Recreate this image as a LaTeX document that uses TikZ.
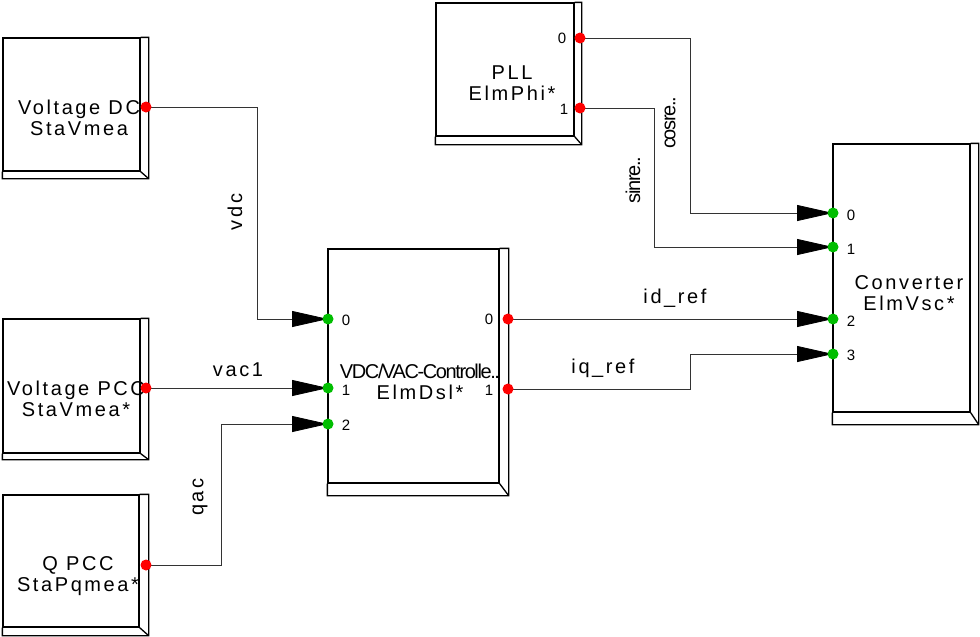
\documentclass[tikz,border=0pt]{standalone}
\usepackage{fontspec}
\setmainfont{Liberation Sans}[LetterSpace=13]
\newfontfamily\tightfont{Liberation Sans}[LetterSpace=-7]
\usetikzlibrary{arrows.meta,calc,backgrounds}
\definecolor{portred}{RGB}{255,0,0}
\definecolor{portgreen}{RGB}{0,190,0}
\tikzset{
  box/.style={draw=black, line width=1.3pt, inner sep=0pt},
  wire/.style={draw=black!80, line width=0.8pt},
  sig/.style={wire, -{Triangle[length=36pt,width=16pt,color=black,fill=black]}},
  outport/.style={circle, fill=portred, inner sep=0pt, minimum size=11pt},
  inport/.style={circle, fill=portgreen, inner sep=0pt, minimum size=11pt},
  txt/.style={align=center, inner sep=0pt, font=\fontsize{20}{21}\selectfont},
  num/.style={inner sep=0pt, font=\fontsize{15}{15}\selectfont}
}
\begin{document}
\begin{tikzpicture}[x=1pt,y=-1pt]
\useasboundingbox (0,0) rectangle (980,637);
\node[box, minimum width=137, minimum height=133] (vdcm) at (71.5,104.5) {};
\node[box, minimum width=137, minimum height=134] (vpcc) at (71.5,386) {};
\node[box, minimum width=136, minimum height=132] (qpcc) at (71,561) {};
\node[box, minimum width=138, minimum height=133] (pll) at (505,69.5) {};
\node[box, minimum width=171, minimum height=234] (ctrl) at (413.5,366) {};
\node[box, minimum width=137, minimum height=268] (conv) at (901.5,278) {};
\foreach \b/\r/\d in {vdcm/8/7, vpcc/8/6, qpcc/9/8, pll/7/8, ctrl/9/12, conv/8/12}
  \draw[box] (\b.north east) -- ++(\r,0) |- ($(\b.south west)+(0,\d)$) -- (\b.south west)
    (\b.south east) -- ++(\r,\d);

\node[txt] (vdcmtxt) at (79,118) {Voltage DC\\StaVmea};
\node[txt] (vpcctxt) at (76,399) {Voltage PCC\\StaVmea*};
\node[txt] (qpcctxt) at (78,576) {Q PCC\\StaPqmea*};
\node[txt] (plltxt) at (512,83) {PLL\\ElmPhi*};
\node[txt] (ctrltxt) at (420,382) {{\tightfont VDC/VAC-Controlle..}\\ElmDsl*};
\node[txt] (convtxt) at (909,293) {Converter\\ElmVsc*};

\node[num] (pllnum0) at (562,38) {0};
\node[num] (pllnum1) at (564,109) {1};
\node[num] (ctrlonum0) at (489,319) {0};
\node[num] (ctrlonum1) at (489,390) {1};
\node[num] (ctrlinum0) at (346,320) {0};
\node[num] (ctrlinum1) at (346,390) {1};
\node[num] (ctrlinum2) at (346,425) {2};
\node[num] (convnum0) at (851,215) {0};
\node[num] (convnum1) at (851,249) {1};
\node[num] (convnum2) at (851,321) {2};
\node[num] (convnum3) at (851,355) {3};

\node[outport] (vdcmout) at (146,107) {};
\node[outport] (vpccout) at (146,388) {};
\node[outport] (qpccout) at (146,565) {};
\node[outport] (pllout0) at (580,38) {};
\node[outport] (pllout1) at (580,108) {};
\node[outport] (ctrlout0) at (508,319) {};
\node[outport] (ctrlout1) at (508,389) {};
\node[inport] (ctrlin0) at (328,319) {};
\node[inport] (ctrlin1) at (328,388) {};
\node[inport] (ctrlin2) at (328,424) {};
\node[inport] (convin0) at (833,213) {};
\node[inport] (convin1) at (833,247) {};
\node[inport] (convin2) at (833,319) {};
\node[inport] (convin3) at (833,354) {};

\begin{scope}[on background layer]
\draw[sig] (vdcmout.center) -- ++(111,0) |- (ctrlin0.center);
\draw[sig] (vpccout.center) -- (ctrlin1.center);
\draw[sig] (qpccout.center) -- ++(75,0) |- (ctrlin2.center);
\draw[sig] (pllout0.center) -- ++(110,0) |- (convin0.center);
\draw[sig] (pllout1.center) -- ++(74,0) |- (convin1.center);
\draw[sig] (ctrlout0.center) -- (convin2.center);
\draw[sig] (ctrlout1.center) -- ++(182,0) |- (convin3.center);
\end{scope}

\node[txt, rotate=90] (vdclbl) at (235,212) {vdc};
\node[txt] (vaclbl) at (238,370) {vac1};
\node[txt, rotate=90] (qaclbl) at (200,497) {qac};
\node[txt, rotate=90] (coslbl) at (670,123) {\tightfont cosre..};
\node[txt, rotate=90] (sinlbl) at (633,180) {\tightfont sinre..};
\node[txt] (idlbl) at (675,298) {id\_ref};
\node[txt] (iqlbl) at (603,368) {iq\_ref};
\end{tikzpicture}
\end{document}
